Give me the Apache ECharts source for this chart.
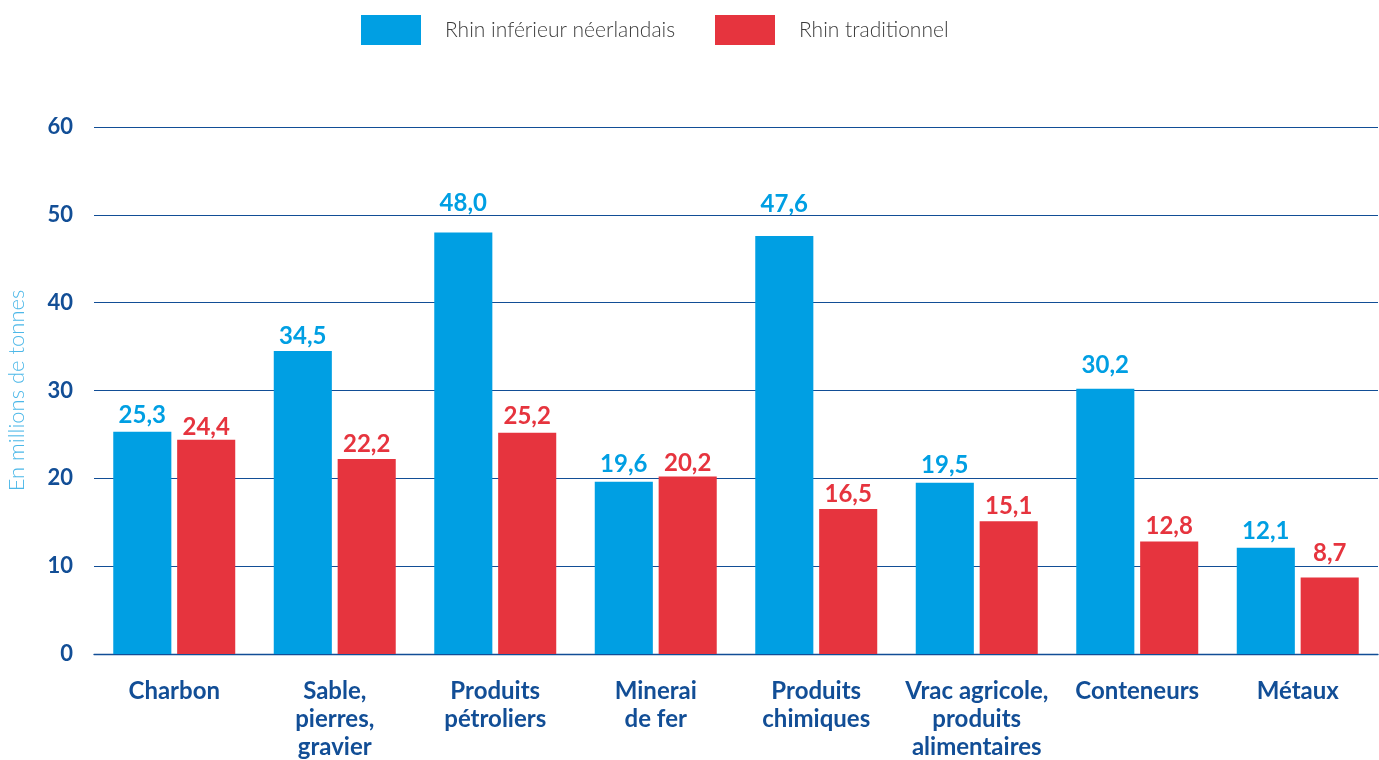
<!DOCTYPE html>
<html>
<head>
<meta charset="utf-8">
<script src="https://cdn.jsdelivr.net/npm/echarts@6/dist/echarts.min.js"></script>
<style>
  html, body { margin: 0; padding: 0; background: #ffffff; }
  #chart { width: 1379px; height: 760px; }
</style>
</head>
<body>
<div id="chart"></div>
<script>
// Freight volumes by commodity group, in millions of tonnes
const categories = [
  'Charbon',
  'Sable,\npierres,\ngravier',
  'Produits\npétroliers',
  'Minerai\nde fer',
  'Produits\nchimiques',
  'Vrac agricole,\nproduits\nalimentaires',
  'Conteneurs',
  'Métaux'
];
const seriesNames = ['Rhin inférieur néerlandais', 'Rhin traditionnel'];
const rhinInferieur = [25.3, 34.5, 48.0, 19.6, 47.6, 19.5, 30.2, 12.1];
const rhinTraditionnel = [24.4, 22.2, 25.2, 20.2, 16.5, 15.1, 12.8, 8.7];
const yTicks = { min: 0, max: 60, interval: 10 };
const yAxisTitle = 'En millions de tonnes';

// Extra upward nudge (px) for value labels that sit clear of gridlines
const blueLabelLift = [2, 0, 14, 3, 17, 2, 8, 1];
const redLabelLift = [-3, 0, 1, -2, 0, 0, 0, 9];

const BLUE = '#009fe3';
const RED = '#e6343e';
const NAVY = '#124e96';
const FONT = 'Lato, "Noto Sans", sans-serif';

const fmt = p => p.value.toFixed(1).replace('.', ',');
const withLift = (values, lifts) =>
  values.map((v, i) => ({ value: v, label: { offset: [0, -lifts[i]] } }));

const chart = echarts.init(document.getElementById('chart'), null, { renderer: 'canvas' });

const legendBase = {
  top: 10,
  itemWidth: 60,
  itemHeight: 30,
  icon: 'rect',
  selectedMode: false,
  textStyle: { fontFamily: FONT, fontSize: 21, fontWeight: 300, color: '#3c3c3c', padding: [0, 0, 0, 19] }
};

const valueLabel = color => ({
  show: true, position: 'top', distance: 3, formatter: fmt,
  fontFamily: FONT, fontSize: 24, fontWeight: 'bold', color: color
});

chart.setOption({
  animation: false,
  textStyle: { fontFamily: FONT },
  legend: [
    Object.assign({}, legendBase, { left: 356, data: [seriesNames[0]] }),
    Object.assign({}, legendBase, { left: 710, data: [seriesNames[1]] })
  ],
  grid: { left: 94, right: 1, top: 127, bottom: 106, containLabel: false, outerBoundsMode: 'none' },
  xAxis: {
    type: 'category',
    data: categories,
    axisTick: { show: false },
    axisLine: { show: true, lineStyle: { color: NAVY, width: 1.3 } },
    axisLabel: {
      interval: 0,
      margin: 23,
      fontFamily: FONT,
      fontSize: 24,
      fontWeight: 'bold',
      color: NAVY,
      lineHeight: 28
    }
  },
  yAxis: {
    type: 'value',
    min: yTicks.min,
    max: yTicks.max,
    interval: yTicks.interval,
    name: yAxisTitle,
    nameLocation: 'middle',
    nameGap: 66,
    nameTextStyle: { fontFamily: FONT, fontSize: 22, fontWeight: 300, color: '#4db8e8' },
    axisLine: { show: false },
    axisTick: { show: false },
    axisLabel: { margin: 21, fontFamily: FONT, fontSize: 22, fontWeight: 'bold', color: NAVY },
    splitLine: { lineStyle: { color: NAVY, width: 1.2 } }
  },
  series: [
    {
      name: seriesNames[0],
      type: 'bar',
      data: withLift(rhinInferieur, blueLabelLift),
      itemStyle: { color: BLUE },
      barGap: '10%',
      barCategoryGap: '24%',
      label: valueLabel(BLUE)
    },
    {
      name: seriesNames[1],
      type: 'bar',
      data: withLift(rhinTraditionnel, redLabelLift),
      itemStyle: { color: RED },
      label: valueLabel(RED)
    }
  ]
});
</script>
</body>
</html>
